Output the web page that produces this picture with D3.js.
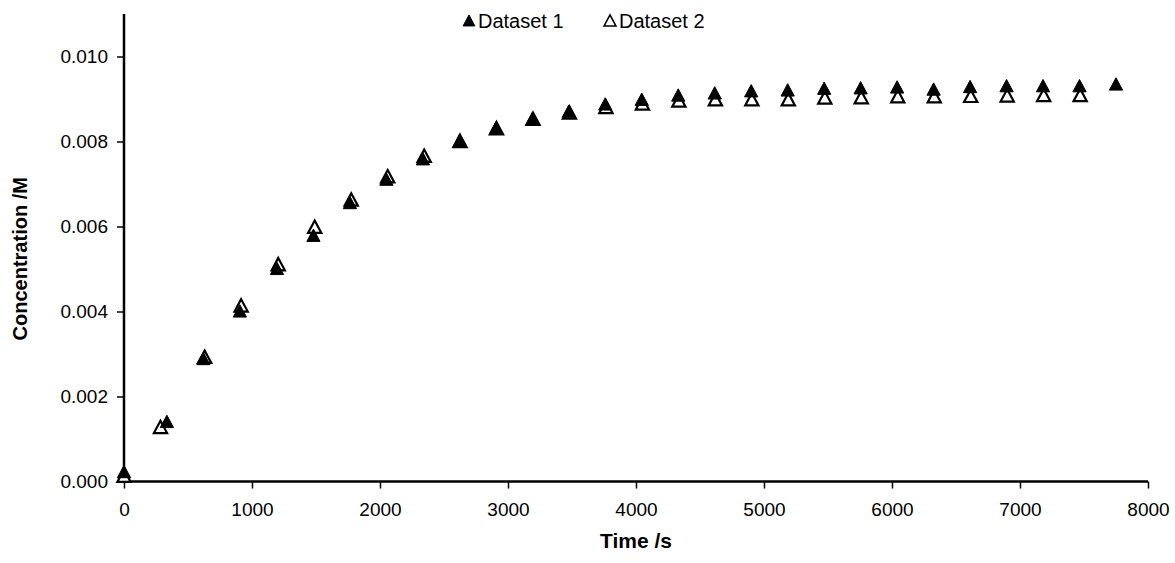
<!DOCTYPE html>
<html>
<head>
<meta charset="utf-8">
<script src="https://cdn.jsdelivr.net/npm/d3@7"></script>
<style>
  html, body { margin: 0; padding: 0; background: #fff; }
  svg { display: block; font-family: "Liberation Sans", Arial, sans-serif; }
</style>
</head>
<body>
<svg id="chart" width="1175" height="563"></svg>
<script>
// Time (s) and concentration (M) readings for the two runs
const time1 = [0, 335, 620, 905, 1195, 1480, 1765, 2050, 2335, 2620, 2905, 3190, 3475, 3760,
  4045, 4330, 4615, 4900, 5185, 5470, 5755, 6040, 6325, 6610, 6895, 7180, 7465, 7750];
const conc1 = [0.00022, 0.00140, 0.00288, 0.00400, 0.00500, 0.00578, 0.00655, 0.00710, 0.00758,
  0.00800, 0.00830, 0.00852, 0.00870, 0.00887, 0.00898, 0.00908, 0.00913, 0.00918, 0.00920,
  0.00924, 0.00925, 0.00927, 0.00922, 0.00928, 0.00930, 0.00930, 0.00930, 0.00934];

const time2 = [0, 285, 630, 915, 1205, 1490, 1775, 2060, 2345, 2625, 2910, 3195, 3480, 3765,
  4050, 4335, 4620, 4905, 5190, 5475, 5760, 6045, 6330, 6615, 6900, 7185, 7470];
const conc2 = [0.00012, 0.00127, 0.00292, 0.00413, 0.00510, 0.00598, 0.00662, 0.00717, 0.00765,
  0.00800, 0.00830, 0.00852, 0.00867, 0.00880, 0.00888, 0.00895, 0.00898, 0.00898, 0.00898,
  0.00902, 0.00903, 0.00905, 0.00905, 0.00906, 0.00907, 0.00908, 0.00908];

const xTicks = [0, 1000, 2000, 3000, 4000, 5000, 6000, 7000, 8000];
const yTicks = [0, 0.002, 0.004, 0.006, 0.008, 0.010];
const seriesNames = ["Dataset 1", "Dataset 2"];

const svg = d3.select("#chart");
const plotLeft = 124, plotRight = 1148, plotTop = 14, plotBottom = 481.5;

const x = d3.scaleLinear().domain([0, 8000]).range([plotLeft, plotRight]);
const y = d3.scaleLinear().domain([0, 0.011]).range([plotBottom, plotTop]);

// Upright triangle marker, centred on its data point
const tri = {
  draw(ctx, size) {
    const w = Math.sqrt(size) * 1.5, h = Math.sqrt(size) * 1.4;
    ctx.moveTo(0, -h * 0.55);
    ctx.lineTo(w / 2, h * 0.45);
    ctx.lineTo(-w / 2, h * 0.45);
    ctx.closePath();
  }
};
const marker = d3.symbol().type(tri).size(78);
const legendMarker = d3.symbol().type(tri).size(62);

// Axes
const xAxis = d3.axisBottom(x).tickValues(xTicks).tickFormat(d3.format("d")).tickSizeOuter(0).tickSize(7).tickPadding(14);
const yAxis = d3.axisLeft(y).tickValues(yTicks).tickFormat(d3.format(".3f")).tickSizeOuter(0).tickSize(7).tickPadding(9);

const gx = svg.append("g").attr("transform", `translate(0,${plotBottom})`).call(xAxis);
const gy = svg.append("g").attr("transform", `translate(${plotLeft},0)`).call(yAxis);

[gx, gy].forEach(g => {
  g.select(".domain").attr("stroke", "#000").attr("stroke-width", 2.5);
  g.selectAll(".tick line").attr("stroke", "#000").attr("stroke-width", 1.5);
  g.selectAll(".tick text").attr("fill", "#000").attr("font-size", 19)
    .attr("font-family", "'Liberation Sans', Arial, sans-serif");
});
gy.select(".domain").attr("d", `M0,${y(0.011)}V${plotBottom}`);
gx.select(".domain").attr("d", `M${plotLeft},0H${plotRight}`);

// Axis titles
svg.append("text")
  .attr("x", x(4000)).attr("y", 548)
  .attr("text-anchor", "middle")
  .attr("font-size", 21).attr("font-weight", "bold")
  .text("Time /s");

svg.append("text")
  .attr("transform", `translate(27,${(plotTop + plotBottom) / 2 + 11}) rotate(-90)`)
  .attr("text-anchor", "middle")
  .attr("font-size", 20).attr("font-weight", "bold")
  .text("Concentration /M");

// Data points: open triangles under the filled ones
const d1 = time1.map((t, i) => ({ t, c: conc1[i] }));
const d2 = time2.map((t, i) => ({ t, c: conc2[i] }));

svg.append("g").selectAll("path").data(d2).join("path")
  .attr("d", marker)
  .attr("transform", d => `translate(${x(d.t)},${y(d.c)})`)
  .attr("fill", "#fff").attr("stroke", "#000").attr("stroke-width", 2.2);

svg.append("g").selectAll("path").data(d1).join("path")
  .attr("d", marker)
  .attr("transform", d => `translate(${x(d.t)},${y(d.c)})`)
  .attr("fill", "#000").attr("stroke", "#000").attr("stroke-width", 1);

// Legend
const legend = svg.append("g").attr("font-size", 20);
const legendItems = [
  { name: seriesNames[0], mx: 469, tx: 478, filled: true },
  { name: seriesNames[1], mx: 610, tx: 619, filled: false }
];
legendItems.forEach(it => {
  legend.append("path")
    .attr("d", legendMarker)
    .attr("transform", `translate(${it.mx},21)`)
    .attr("fill", it.filled ? "#000" : "#fff")
    .attr("stroke", "#000").attr("stroke-width", it.filled ? 1 : 1.6);
  legend.append("text").attr("x", it.tx).attr("y", 28).attr("fill", "#000").text(it.name);
});
</script>
</body>
</html>
